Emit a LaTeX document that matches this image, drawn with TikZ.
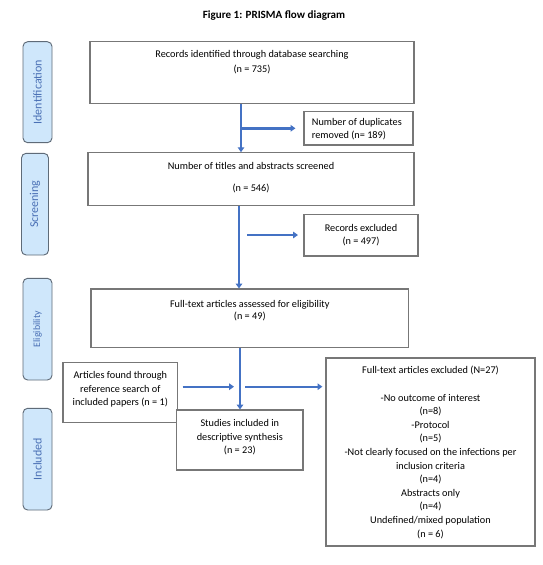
\documentclass[tikz,border=0pt]{standalone}
\usepackage{fontspec}
\setmainfont{Carlito}
\usetikzlibrary{fit,arrows.meta}
\definecolor{arrowblue}{HTML}{4472C4}
\definecolor{tabfill}{HTML}{CFE7FB}
\definecolor{tabline}{HTML}{5F6B78}
\definecolor{tabtext}{HTML}{4A70B5}
\definecolor{boxline}{HTML}{777777}
\begin{document}
\begin{tikzpicture}[x=0.75pt,y=-0.75pt,
  box/.style={draw=boxline, line width=0.8pt, inner sep=0pt, fill=white},
  tab/.style={draw=tabline, line width=0.7pt, fill=tabfill, rounded corners=3.5pt, inner sep=0pt},
  tabtxt/.style={text=tabtext, rotate=90, inner sep=0pt, font=\fontsize{9}{11}\selectfont},
  txt/.style={align=center, font=\fontsize{7.7}{10.2}\selectfont, inner sep=0pt},
  arr/.style={draw=arrowblue, line width=1.8pt, -{Triangle[length=3.6pt,width=4.8pt]}},
  ]
\useasboundingbox[fill=white] (0,0) rectangle (543,565);

\node[font=\bfseries\fontsize{8.3}{10}\selectfont, inner sep=0pt] (title) at (274,16) {Figure 1: PRISMA flow diagram};

% side tabs
\node[tab, fit={(23,41.7)(52,142.7)}] (tid) {};
\node[tabtxt] (tidt) at (tid.center) {Identification};
\node[tab, fit={(21.5,153.3)(48.5,255)}] (tsc) {};
\node[tabtxt] (tsct) at (tsc.center) {Screening};
\node[tab, fit={(23,278.3)(52,380)}] (tel) {};
\node[tabtxt, font=\fontsize{7.4}{9}\selectfont] (telt) at (tel.center) {Eligibility};
\node[tab, fit={(23,408.3)(52,510)}] (tin) {};
\node[tabtxt] (tint) at (tin.center) {Included};

% boxes
\node[box, fit={(90,41.7)(414,103.3)}] (rec) {};
\node[txt] (rect) at (252,62.5) {Records identified through database searching\\[1pt](n = 735)};

\node[box, fit={(304,111.7)(413,145)}] (dup) {};
\node[txt, align=left, anchor=west] (dupt) at (311.6,129) {Number of duplicates\\removed (n= 189)};

\node[box, fit={(88,152.7)(414,205.7)}] (scr) {};
\node[txt] (scrt) at (251,177.5) {Number of titles and abstracts screened\\[6pt](n = 546)};

\node[box, fit={(304,214.3)(418,256)}] (rex) {};
\node[txt] (rext) at (361,235) {Records excluded\\(n = 497)};

\node[box, fit={(91,289)(408.6,347.3)}] (ft) {};
\node[txt] (ftt) at (249.8,310.5) {Full-text articles assessed for eligibility\\[-0.9pt](n = 49)};

\node[box, fit={(63,362.3)(177.6,422.7)}] (art) {};
\node[txt] (artt) at (120.3,389.5) {Articles found through\\reference search of\\included papers (n = 1)};

\node[box, fit={(176.6,410)(303,470)}] (stu) {};
\node[txt] (stut) at (239.8,437.5) {Studies included in\\descriptive synthesis\\(n = 23)};

\node[box, fit={(326,358)(535,546)}] (exc) {};
\node[txt] (exct) at (430.5,452.5) {Full-text articles excluded (N=27)\\[10.2pt]-No outcome of interest\\(n=8)\\-Protocol\\(n=5)\\-Not clearly focused on the infections per\\inclusion criteria\\(n=4)\\Abstracts only\\(n=4)\\Undefined/mixed population\\(n = 6)};

% connectors
\coordinate (v1) at (241,0);
\coordinate (v2) at (239,0);
\coordinate (v3) at (240,0);
\draw[arr] (rec.south -| v1) -- (scr.north -| v1);
\coordinate (b1) at (241,128.3);
\draw[arr, shorten >=6pt] (b1) -- (dup.west |- b1);
\draw[arr] (scr.south -| v2) -- (ft.north -| v2);
\coordinate (b2) at (247,235);
\draw[arr, shorten >=4.1pt] (b2) -- (rex.west |- b2);
\draw[arr] (ft.south -| v3) -- (stu.north -| v3);
\coordinate (b3) at (240,386.7);
\coordinate (b4) at (245,386.7);
\draw[arr, shorten <=3.3pt, shorten >=4.5pt] (art.east |- b3) -- (b3);
\draw[arr, shorten >=2.3pt] (b4) -- (exc.west |- b4);
\end{tikzpicture}
\end{document}
